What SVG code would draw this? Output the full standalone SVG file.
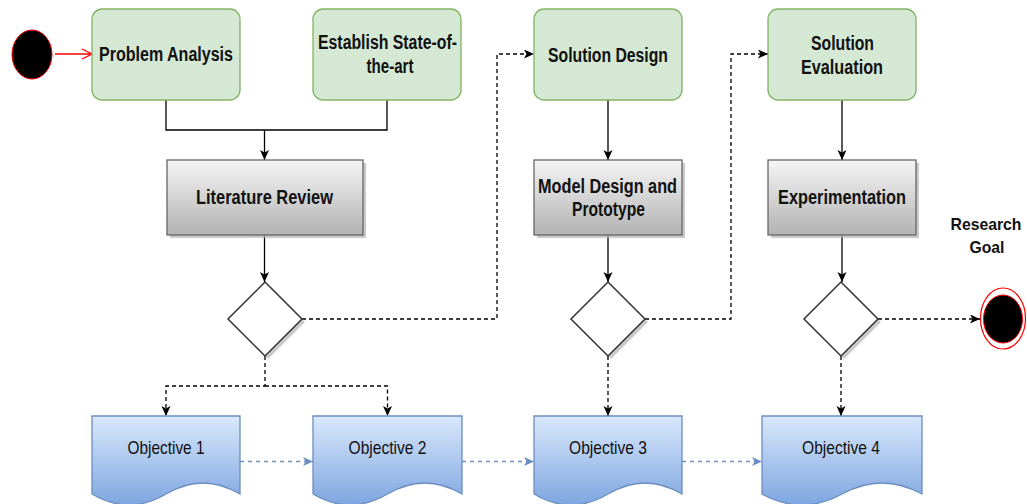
<svg xmlns="http://www.w3.org/2000/svg" width="1027" height="504" viewBox="0 0 1027 504">
  <defs>
    <linearGradient id="grayFill" x1="0" y1="0" x2="0" y2="1">
      <stop offset="0" stop-color="#f5f5f5"/>
      <stop offset="1" stop-color="#b3b3b3"/>
    </linearGradient>
    <linearGradient id="blueFill" x1="0" y1="0" x2="0" y2="1">
      <stop offset="0" stop-color="#dae8fc"/>
      <stop offset="1" stop-color="#7ea6e0"/>
    </linearGradient>
    <marker id="arrowBlack" markerUnits="userSpaceOnUse" markerWidth="12" markerHeight="10" refX="10" refY="4.5" orient="auto">
      <path d="M0,0 L10,4.5 L0,9 L2.5,4.5 Z" fill="#000"/>
    </marker>
    <marker id="arrowBlue" markerUnits="userSpaceOnUse" markerWidth="12" markerHeight="10" refX="10" refY="4.5" orient="auto">
      <path d="M0,0 L10,4.5 L0,9 L2.5,4.5 Z" fill="#6c8ebf"/>
    </marker>
    <marker id="arrowRed" markerUnits="userSpaceOnUse" markerWidth="12" markerHeight="12" refX="11" refY="6" orient="auto">
      <path d="M1,1 L11,6 L1,11" fill="none" stroke="#ff0000" stroke-width="1.3"/>
    </marker>
  </defs>
  <style>
    .green { fill: #d5e8d4; stroke: #82b366; stroke-width: 1.3; }
    .gray { fill: url(#grayFill); stroke: #666666; stroke-width: 1.3; }
    .doc { fill: url(#blueFill); stroke: #6c8ebf; stroke-width: 1.3; }
    .shadow { fill: #b3b3b3; opacity: 0.7; }
    .diamond { fill: #ffffff; stroke: #333333; stroke-width: 1.5; }
    .label { font-family: "Liberation Sans Narrow", "Arial Narrow", "Liberation Sans", sans-serif; font-size: 20px; font-weight: bold; fill: #111; text-anchor: middle; }
    .side { font-size: 17px; }
    .obj { font-family: "Liberation Sans Narrow", "Arial Narrow", "Liberation Sans", sans-serif; font-size: 19px; fill: #111; text-anchor: middle; }
    .solid { fill: none; stroke: #000; stroke-width: 1.3; }
    .dash { fill: none; stroke: #000; stroke-width: 1.3; stroke-dasharray: 4 3; }
    .blueDash { fill: none; stroke: #6c8ebf; stroke-width: 1.3; stroke-dasharray: 4 4; }
  </style>

  <!-- connectors -->
  <g id="connectors">
    <path d="M55,54 H92" fill="none" stroke="#ff0000" stroke-width="1.3" marker-end="url(#arrowRed)"/>
    <path class="solid" d="M166,100 V130 H387 V100"/>
    <path class="solid" d="M264.5,130 V160" marker-end="url(#arrowBlack)"/>
    <path class="solid" d="M264.5,235 V282" marker-end="url(#arrowBlack)"/>
    <path class="dash" d="M302,319 H497 V54 H534" marker-end="url(#arrowBlack)"/>
    <path class="dash" d="M265,356 V386 H166 V416" marker-end="url(#arrowBlack)"/>
    <path class="dash" d="M265,386 H387.5 V416" marker-end="url(#arrowBlack)"/>
    <path class="solid" d="M608,100 V160" marker-end="url(#arrowBlack)"/>
    <path class="solid" d="M608,235 V282" marker-end="url(#arrowBlack)"/>
    <path class="dash" d="M645,319 H731 V54 H768" marker-end="url(#arrowBlack)"/>
    <path class="dash" d="M608,356 V416" marker-end="url(#arrowBlack)"/>
    <path class="solid" d="M842,100 V160" marker-end="url(#arrowBlack)"/>
    <path class="solid" d="M842,235 V282" marker-end="url(#arrowBlack)"/>
    <path class="dash" d="M878,319 H980" marker-end="url(#arrowBlack)"/>
    <path class="dash" d="M841,356 V416" marker-end="url(#arrowBlack)"/>
    <path class="blueDash" d="M240,461.5 H313" marker-end="url(#arrowBlue)"/>
    <path class="blueDash" d="M462,461.5 H534" marker-end="url(#arrowBlue)"/>
    <path class="blueDash" d="M682,461.5 H762" marker-end="url(#arrowBlue)"/>
  </g>

  <!-- start state -->
  <g id="start">
    <ellipse cx="32" cy="54.5" rx="20" ry="24.5" fill="#000" stroke="#ff0000" stroke-width="1"/>
  </g>

  <!-- top row -->
  <g id="problem-analysis">
    <rect class="green" x="92" y="9" width="148" height="91" rx="10"/>
    <text class="label" x="166" y="61" textLength="134" lengthAdjust="spacingAndGlyphs">Problem Analysis</text>
  </g>
  <g id="state-of-the-art">
    <rect class="green" x="313" y="9" width="148" height="91" rx="10"/>
    <text class="label" x="387.5" y="49" textLength="139" lengthAdjust="spacingAndGlyphs">Establish State-of-</text>
    <text class="label" x="390" y="73" textLength="47" lengthAdjust="spacingAndGlyphs">the-art</text>
  </g>
  <g id="solution-design">
    <rect class="green" x="534" y="9" width="148" height="91" rx="10"/>
    <text class="label" x="608" y="61.5" textLength="120" lengthAdjust="spacingAndGlyphs">Solution Design</text>
  </g>
  <g id="solution-evaluation">
    <rect class="green" x="768" y="9" width="148" height="91" rx="10"/>
    <text class="label" x="842.5" y="50" textLength="63" lengthAdjust="spacingAndGlyphs">Solution</text>
    <text class="label" x="842" y="73.5" textLength="82" lengthAdjust="spacingAndGlyphs">Evaluation</text>
  </g>

  <!-- process row -->
  <g id="literature-review">
    <rect class="shadow" x="170" y="163" width="196" height="75"/>
    <rect class="gray" x="167" y="160" width="196" height="75"/>
    <text class="label" x="264.5" y="204" textLength="137" lengthAdjust="spacingAndGlyphs">Literature Review</text>
  </g>
  <g id="model-design">
    <rect class="shadow" x="537" y="163" width="148" height="75"/>
    <rect class="gray" x="534" y="160" width="148" height="75"/>
    <text class="label" x="607.5" y="193" textLength="139" lengthAdjust="spacingAndGlyphs">Model Design and</text>
    <text class="label" x="608.5" y="216" textLength="73" lengthAdjust="spacingAndGlyphs">Prototype</text>
  </g>
  <g id="experimentation">
    <rect class="shadow" x="771" y="163" width="148" height="75"/>
    <rect class="gray" x="768" y="160" width="148" height="75"/>
    <text class="label" x="842" y="204" textLength="128" lengthAdjust="spacingAndGlyphs">Experimentation</text>
  </g>

  <!-- decisions -->
  <g id="decision-1">
    <polygon class="shadow" points="268,285 305,322 268,359 231,322"/>
    <polygon class="diamond" points="265,282 302,319 265,356 228,319"/>
  </g>
  <g id="decision-2">
    <polygon class="shadow" points="611,285 648,322 611,359 574,322"/>
    <polygon class="diamond" points="608,282 645,319 608,356 571,319"/>
  </g>
  <g id="decision-3">
    <polygon class="shadow" points="844,285 881,322 844,359 807,322"/>
    <polygon class="diamond" points="841,282 878,319 841,356 804,319"/>
  </g>

  <!-- end state -->
  <g id="research-goal">
    <ellipse cx="1003" cy="318.5" rx="22.5" ry="30.5" fill="#fff" stroke="#ff0000" stroke-width="1.2"/>
    <ellipse cx="1003" cy="319" rx="19.5" ry="24" fill="#000" stroke="#ff0000" stroke-width="1"/>
    <text class="label side" x="986" y="229.5" textLength="71" lengthAdjust="spacingAndGlyphs">Research</text>
    <text class="label side" x="987" y="253" textLength="35" lengthAdjust="spacingAndGlyphs">Goal</text>
  </g>

  <!-- objectives -->
  <g id="objective-1">
    <path class="doc" d="M92,416 H240 V494 Q203,472 166,494 Q129,516 92,494 Z"/>
    <text class="obj" x="166" y="454" textLength="77" lengthAdjust="spacingAndGlyphs">Objective 1</text>
  </g>
  <g id="objective-2">
    <path class="doc" d="M313,416 H462 V494 Q425,472 387.5,494 Q350,516 313,494 Z"/>
    <text class="obj" x="387.5" y="454" textLength="78" lengthAdjust="spacingAndGlyphs">Objective 2</text>
  </g>
  <g id="objective-3">
    <path class="doc" d="M534,416 H682 V494 Q645,472 608,494 Q571,516 534,494 Z"/>
    <text class="obj" x="608" y="454" textLength="78" lengthAdjust="spacingAndGlyphs">Objective 3</text>
  </g>
  <g id="objective-4">
    <path class="doc" d="M762,416 H922 V494 Q882,472 842,494 Q802,516 762,494 Z"/>
    <text class="obj" x="841" y="454" textLength="78" lengthAdjust="spacingAndGlyphs">Objective 4</text>
  </g>
</svg>
